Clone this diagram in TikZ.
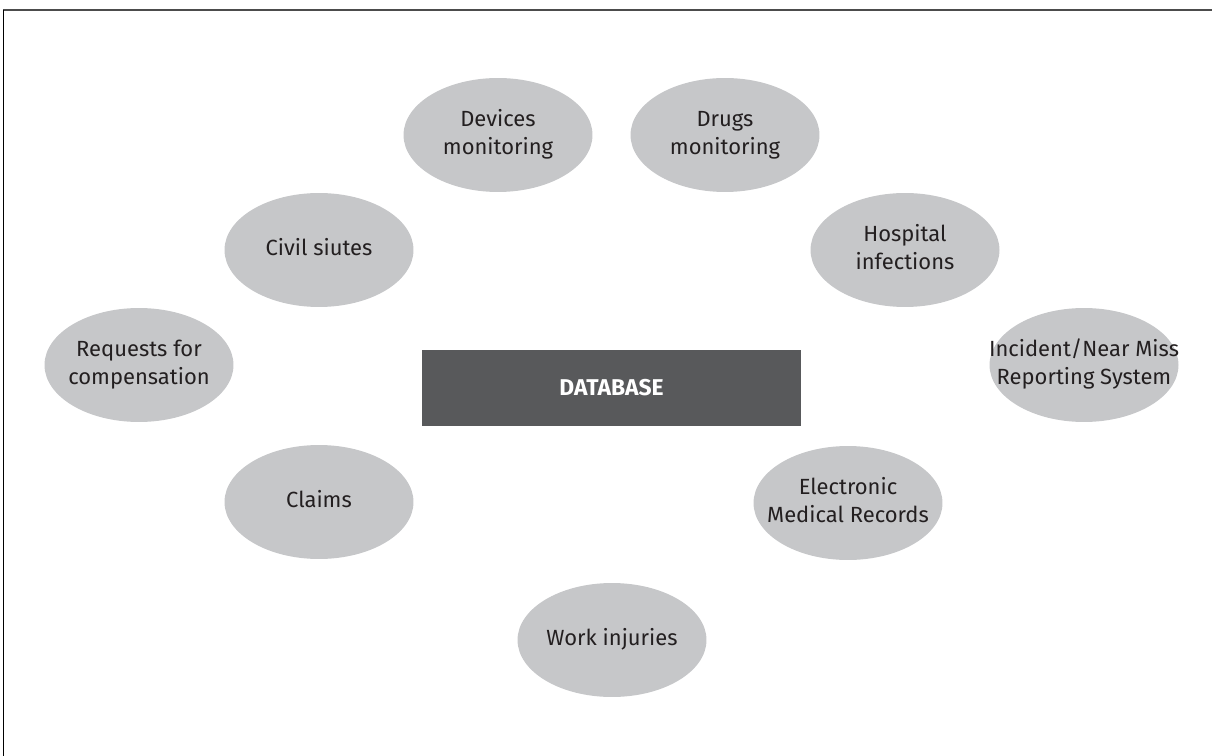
\documentclass[tikz,border=0pt]{standalone}
\usepackage{fontspec}
\setmainfont{Fira Sans}
\usetikzlibrary{shapes.geometric}
\definecolor{bubblegray}{HTML}{C6C7C9}
\definecolor{boxgray}{HTML}{58595B}
\definecolor{inkgray}{HTML}{231F20}
% text that does not widen its ellipse
\newcommand{\srctext}[1]{\makebox[0pt]{\begin{tabular}{@{}c@{}}#1\end{tabular}}}
\begin{document}
\begin{tikzpicture}[x=0.02cm, y=-0.02cm,
        bubble/.style={ellipse, fill=bubblegray, minimum width=3.78cm, minimum height=2.28cm,
            inner sep=0pt, text=inkgray, font=\fontsize{12.5}{16}\selectfont},
        dbbox/.style={rectangle, fill=boxgray, minimum width=7.58cm, minimum height=1.52cm,
            text=white, font=\fontsize{13}{16}\selectfont\bfseries}]
        \useasboundingbox (0,0) rectangle (1212,756);
        % frame
        \draw[line width=0.04cm, black!70] (3,10) -- (1212,10);
        \draw[line width=0.02cm] (3,10) -- (3,756);
        % centre
        \node[dbbox] (db) at (611.5,388) {DATABASE};
        % sources
        \node[bubble] (devices) at (498,135) {\srctext{Devices\\monitoring}};
        \node[bubble] (drugs) at (725,135) {\srctext{Drugs\\monitoring}};
        \node[bubble] (civil) at (319,250) {\srctext{Civil siutes}};
        \node[bubble] (hospital) at (905,250) {\srctext{Hospital\\infections}};
        \node[bubble] (requests) at (139,365) {\srctext{Requests for\\compensation}};
        \node[bubble] (incident) at (1084,365) {\srctext{Incident/Near Miss\\Reporting System}};
        \node[bubble] (claims) at (319,502) {\srctext{Claims}};
        \node[bubble] (emr) at (848,503) {\srctext{Electronic\\Medical Records}};
        \node[bubble] (work) at (612,640) {\srctext{Work injuries}};
    \end{tikzpicture}
\end{document}
